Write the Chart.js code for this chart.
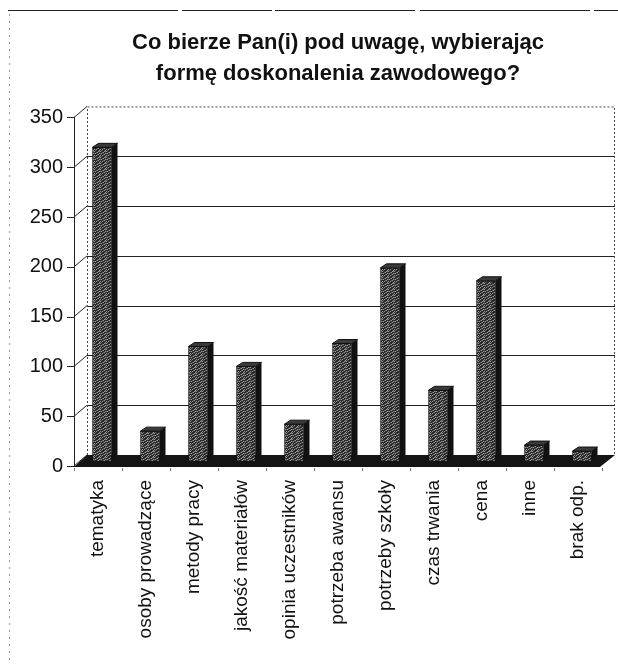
<!DOCTYPE html>
<html>
<head>
<meta charset="utf-8">
<script src="https://cdn.jsdelivr.net/npm/chart.js@4.4.1/dist/chart.umd.min.js"></script>
<style>
  html, body { margin: 0; padding: 0; background: #fff; }
  #wrap { width: 618px; height: 664px; }
</style>
</head>
<body>
<div id="wrap"><canvas id="c" width="618" height="664"></canvas></div>
<script>
const titleLines = ['Co bierze Pan(i) pod uwagę, wybierając', 'formę doskonalenia zawodowego?'];
const categories = ['tematyka', 'osoby prowadzące', 'metody pracy', 'jakość materiałów', 'opinia uczestników', 'potrzeba awansu', 'potrzeby szkoły', 'czas trwania', 'cena', 'inne', 'brak odp.'];
const values = [315, 30, 115, 95, 37, 118, 194, 71, 181, 16, 10];
const yTickValues = [0, 50, 100, 150, 200, 250, 300, 350];

const FONT = "'Liberation Sans', Arial, 'DejaVu Sans', sans-serif";
const WALL_DX = 13, WALL_DY = -11;     // depth of the back wall
const BAR_DX = 4, BAR_DY = -5;         // bars sit mid-depth
const SIDE_DX = 6, SIDE_DY = -4;       // depth of each column

const canvas = document.getElementById('c');
const ctx0 = canvas.getContext('2d');

function makePattern() {
  const c = document.createElement('canvas');
  c.width = 6; c.height = 6;
  const g = c.getContext('2d');
  g.fillStyle = '#2a2a2a';
  g.fillRect(0, 0, 6, 6);
  g.fillStyle = '#9c9c9c';
  [[0,0],[3,1],[1,2],[4,3],[2,4],[5,5],[0,4],[4,0],[5,2]].forEach(p => g.fillRect(p[0], p[1], 1, 1));
  g.fillStyle = '#666';
  [[2,1],[5,0],[1,5],[3,3],[0,2]].forEach(p => g.fillRect(p[0], p[1], 1, 1));
  return ctx0.createPattern(c, 'repeat');
}

const threeD = {
  id: 'threeD',
  beforeDraw(chart) {
    const ctx = chart.ctx;
    ctx.save();
    ctx.fillStyle = '#fff';
    ctx.fillRect(0, 0, chart.width, chart.height);
    // outer frame (top and left)
    ctx.strokeStyle = '#222';
    ctx.lineWidth = 1.2;
    ctx.setLineDash([170, 4, 90, 3, 140, 5]);
    ctx.beginPath(); ctx.moveTo(8, 10.5); ctx.lineTo(618, 10.5); ctx.stroke();
    ctx.strokeStyle = '#999';
    ctx.lineWidth = 1;
    ctx.setLineDash([2, 5]);
    ctx.beginPath(); ctx.moveTo(9.5, 14); ctx.lineTo(9.5, 664); ctx.stroke();
    ctx.restore();
  },
  beforeDatasetsDraw(chart) {
    const ctx = chart.ctx;
    const x = chart.scales.x, y = chart.scales.y;
    const L = x.left, R = x.right;
    const y0 = y.getPixelForValue(0);
    const yTop = y.getPixelForValue(yTickValues[yTickValues.length - 1]);
    ctx.save();
    // back wall gridlines
    ctx.strokeStyle = '#222';
    ctx.lineWidth = 1;
    yTickValues.slice(1, -1).forEach(v => {
      const py = Math.round(y.getPixelForValue(v) + WALL_DY) + 0.5;
      ctx.beginPath(); ctx.moveTo(L + WALL_DX, py); ctx.lineTo(R + WALL_DX, py); ctx.stroke();
    });
    // back wall outline (dotted)
    ctx.setLineDash([2, 2]);
    ctx.strokeStyle = '#444';
    ctx.beginPath();
    ctx.moveTo(L + WALL_DX + 0.5, y0 + WALL_DY);
    ctx.lineTo(L + WALL_DX + 0.5, yTop + WALL_DY + 0.5);
    ctx.lineTo(R + WALL_DX - 0.5, yTop + WALL_DY + 0.5);
    ctx.lineTo(R + WALL_DX - 0.5, y0 + WALL_DY);
    ctx.stroke();
    ctx.setLineDash([]);
    // side wall diagonals and tick marks
    ctx.strokeStyle = '#222';
    yTickValues.forEach(v => {
      const py = y.getPixelForValue(v);
      ctx.beginPath(); ctx.moveTo(L, py); ctx.lineTo(L + WALL_DX, py + WALL_DY); ctx.stroke();
      ctx.beginPath(); ctx.moveTo(L - 7, Math.round(py) + 0.5); ctx.lineTo(L, Math.round(py) + 0.5); ctx.stroke();
    });
    // floor
    ctx.fillStyle = '#141414';
    ctx.beginPath();
    ctx.moveTo(L, y0 + 1);
    ctx.lineTo(R - 2, y0 + 1);
    ctx.lineTo(R + WALL_DX, y0 + WALL_DY);
    ctx.lineTo(L + WALL_DX, y0 + WALL_DY);
    ctx.closePath();
    ctx.fill();
    // small category ticks under the floor
    ctx.strokeStyle = '#777';
    for (let i = 0; i <= categories.length; i++) {
      const px = L + (R - L) * i / categories.length;
      ctx.beginPath(); ctx.moveTo(px + 0.5, y0 + 2); ctx.lineTo(px + 0.5, y0 + 5); ctx.stroke();
    }
    ctx.restore();
    ctx.save();
    ctx.translate(BAR_DX, BAR_DY);
  },
  afterDatasetsDraw(chart) {
    const ctx = chart.ctx;
    const meta = chart.getDatasetMeta(0);
    meta.data.forEach(el => {
      const { x, y, base, width } = el.getProps(['x', 'y', 'base', 'width'], true);
      const l = x - width / 2, r = x + width / 2;
      // right side
      ctx.fillStyle = '#111';
      ctx.beginPath();
      ctx.moveTo(r, y); ctx.lineTo(r + SIDE_DX, y + SIDE_DY);
      ctx.lineTo(r + SIDE_DX, base + SIDE_DY); ctx.lineTo(r, base);
      ctx.closePath(); ctx.fill();
      // top
      ctx.fillStyle = '#3a3a3a';
      ctx.beginPath();
      ctx.moveTo(l, y); ctx.lineTo(l + SIDE_DX, y + SIDE_DY);
      ctx.lineTo(r + SIDE_DX, y + SIDE_DY); ctx.lineTo(r, y);
      ctx.closePath(); ctx.fill();
      ctx.strokeStyle = '#111';
      ctx.lineWidth = 1;
      ctx.stroke();
    });
    ctx.restore();
  }
};

new Chart(canvas, {
  type: 'bar',
  data: {
    labels: categories,
    datasets: [{
      data: values,
      backgroundColor: makePattern(),
      borderColor: '#151515',
      borderWidth: 1,
      barThickness: 19
    }]
  },
  options: {
    responsive: false,
    animation: false,
    layout: { padding: { top: 27, left: 0, right: 16, bottom: 0 } },
    plugins: {
      legend: { display: false },
      tooltip: { enabled: false },
      title: {
        display: true,
        text: titleLines,
        fullSize: false,
        color: '#111',
        font: { family: FONT, size: 22, weight: 'bold', lineHeight: 1.42 },
        padding: { top: 0, bottom: 28 }
      }
    },
    scales: {
      x: {
        grid: { display: false, drawTicks: false },
        border: { display: false },
        ticks: {
          color: '#111',
          font: { family: FONT, size: 19 },
          minRotation: 90,
          maxRotation: 90,
          autoSkip: false,
          padding: 14
        },
        afterFit(scale) { scale.height = 198; }
      },
      y: {
        min: 0,
        max: 350,
        grid: { display: false, drawTicks: false },
        border: { display: true, color: '#222', width: 1 },
        ticks: {
          stepSize: 50,
          color: '#111',
          font: { family: FONT, size: 20 },
          padding: 11
        },
        afterBuildTicks(scale) { scale.ticks = yTickValues.map(v => ({ value: v })); },
        afterFit(scale) { scale.width = 74; }
      }
    }
  },
  plugins: [threeD]
});
</script>
</body>
</html>
